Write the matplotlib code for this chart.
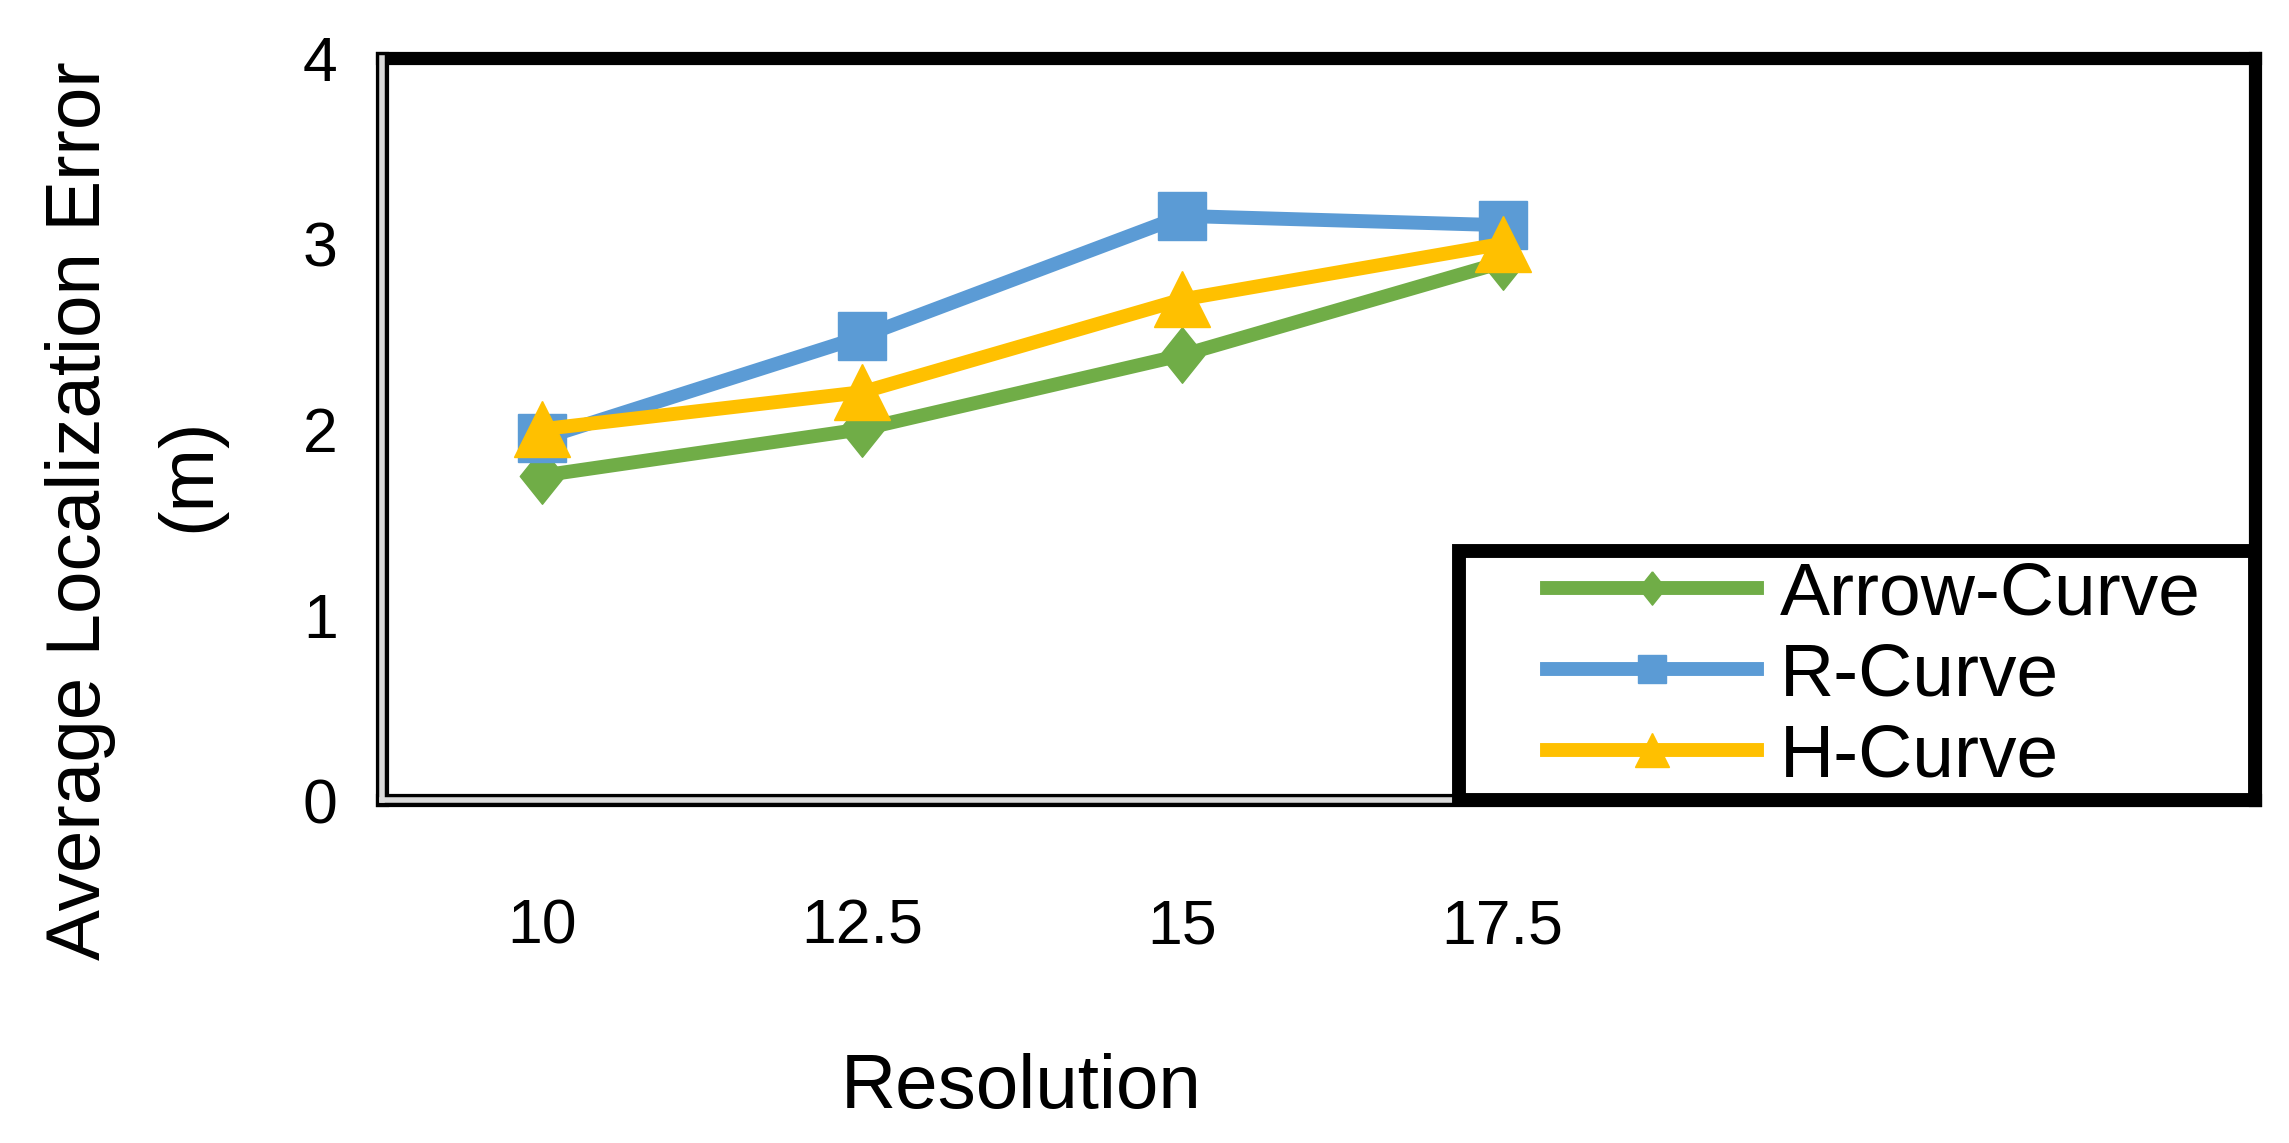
import matplotlib
matplotlib.use("Agg")
import matplotlib.pyplot as plt
import numpy as np
from matplotlib.lines import Line2D
from matplotlib.legend_handler import HandlerLine2D

# values
resolutions = ["10", "12.5", "15", "17.5"]
arrow_curve = [1.75, 2.0, 2.4, 2.9]
r_curve = [1.95, 2.5, 3.15, 3.1]
h_curve = [2.0, 2.2, 2.7, 3.0]
series_names = ["Arrow-Curve", "R-Curve", "H-Curve"]
y_ticks = [0, 1, 2, 3, 4]

plt.rcParams['font.family'] = ['Liberation Sans', 'DejaVu Sans']


class LeadHandler(HandlerLine2D):
    """Line handler that leaves some blank space before the sample line."""
    def __init__(self, lead=0.6, **kw):
        super().__init__(**kw)
        self.lead = lead

    def get_xdata(self, legend, xdescent, ydescent, width, height, fontsize):
        off = self.lead * fontsize
        xd, xm = super().get_xdata(legend, xdescent, ydescent, width - off,
                                   height, fontsize)
        return np.asarray(xd) + off, np.asarray(xm) + off


# slightly tall diamond like the Excel marker
diamond = [(0, 1), (0.8, 0), (0, -1), (-0.8, 0), (0, 1)]

fig = plt.figure(figsize=(22.89, 11.43), dpi=100)
ax = fig.add_axes([0.167, 0.300, 0.818, 0.649])

x = list(range(len(resolutions)))
ax.plot(x, arrow_curve, color='#70AD47', lw=10, marker=diamond,
        markersize=40, label=series_names[0], zorder=3)
ax.plot(x, r_curve, color='#5B9BD5', lw=10, marker='s', markersize=34,
        label=series_names[1], zorder=4)
ax.plot(x, h_curve, color='#FFC000', lw=10, marker='^', markersize=40,
        label=series_names[2], zorder=5)

ax.set_xlim(-0.5, 5.35)
ax.set_ylim(0, 4)
ax.set_xticks(x)
ax.set_xticklabels(resolutions)
ax.set_yticks(y_ticks)
ax.tick_params(axis='both', length=0, labelsize=45)
ax.tick_params(axis='x', pad=70)
ax.tick_params(axis='y', pad=32)

# frame: thick black top/right, black-grey double line left/bottom
for side in ['top', 'right', 'left', 'bottom']:
    ax.spines[side].set_linewidth(9.5)
    ax.spines[side].set_color('black')
for xs, ys in [([0, 0], [0, 1]), ([0, 1], [0, 0])]:
    ax.add_line(Line2D(xs, ys, transform=ax.transAxes, color='#d9d9d9',
                       lw=4, clip_on=False, zorder=6))

leg = ax.legend(loc='lower left', bbox_to_anchor=(0.575, 0.0, 0.425, 0.3),
                mode='expand', fontsize=54, frameon=True, fancybox=False,
                framealpha=1, borderaxespad=0, handlelength=3.86,
                handletextpad=0.3, labelspacing=0.16, borderpad=0.12,
                markerscale=0.6,
                handler_map={Line2D: LeadHandler(lead=1.05)})
leg.get_frame().set_edgecolor('black')
leg.get_frame().set_linewidth(10)
leg.set_zorder(10)

fig.text(0.446, 0.048, "Resolution", fontsize=55, ha='center', va='center')
fig.text(0.035, 0.553, "Average Localization Error", fontsize=55,
         rotation=90, ha='center', va='center')
fig.text(0.083, 0.585, "(m)", fontsize=55, rotation=90,
         ha='center', va='center')

fig.savefig("out.png", dpi=100)
